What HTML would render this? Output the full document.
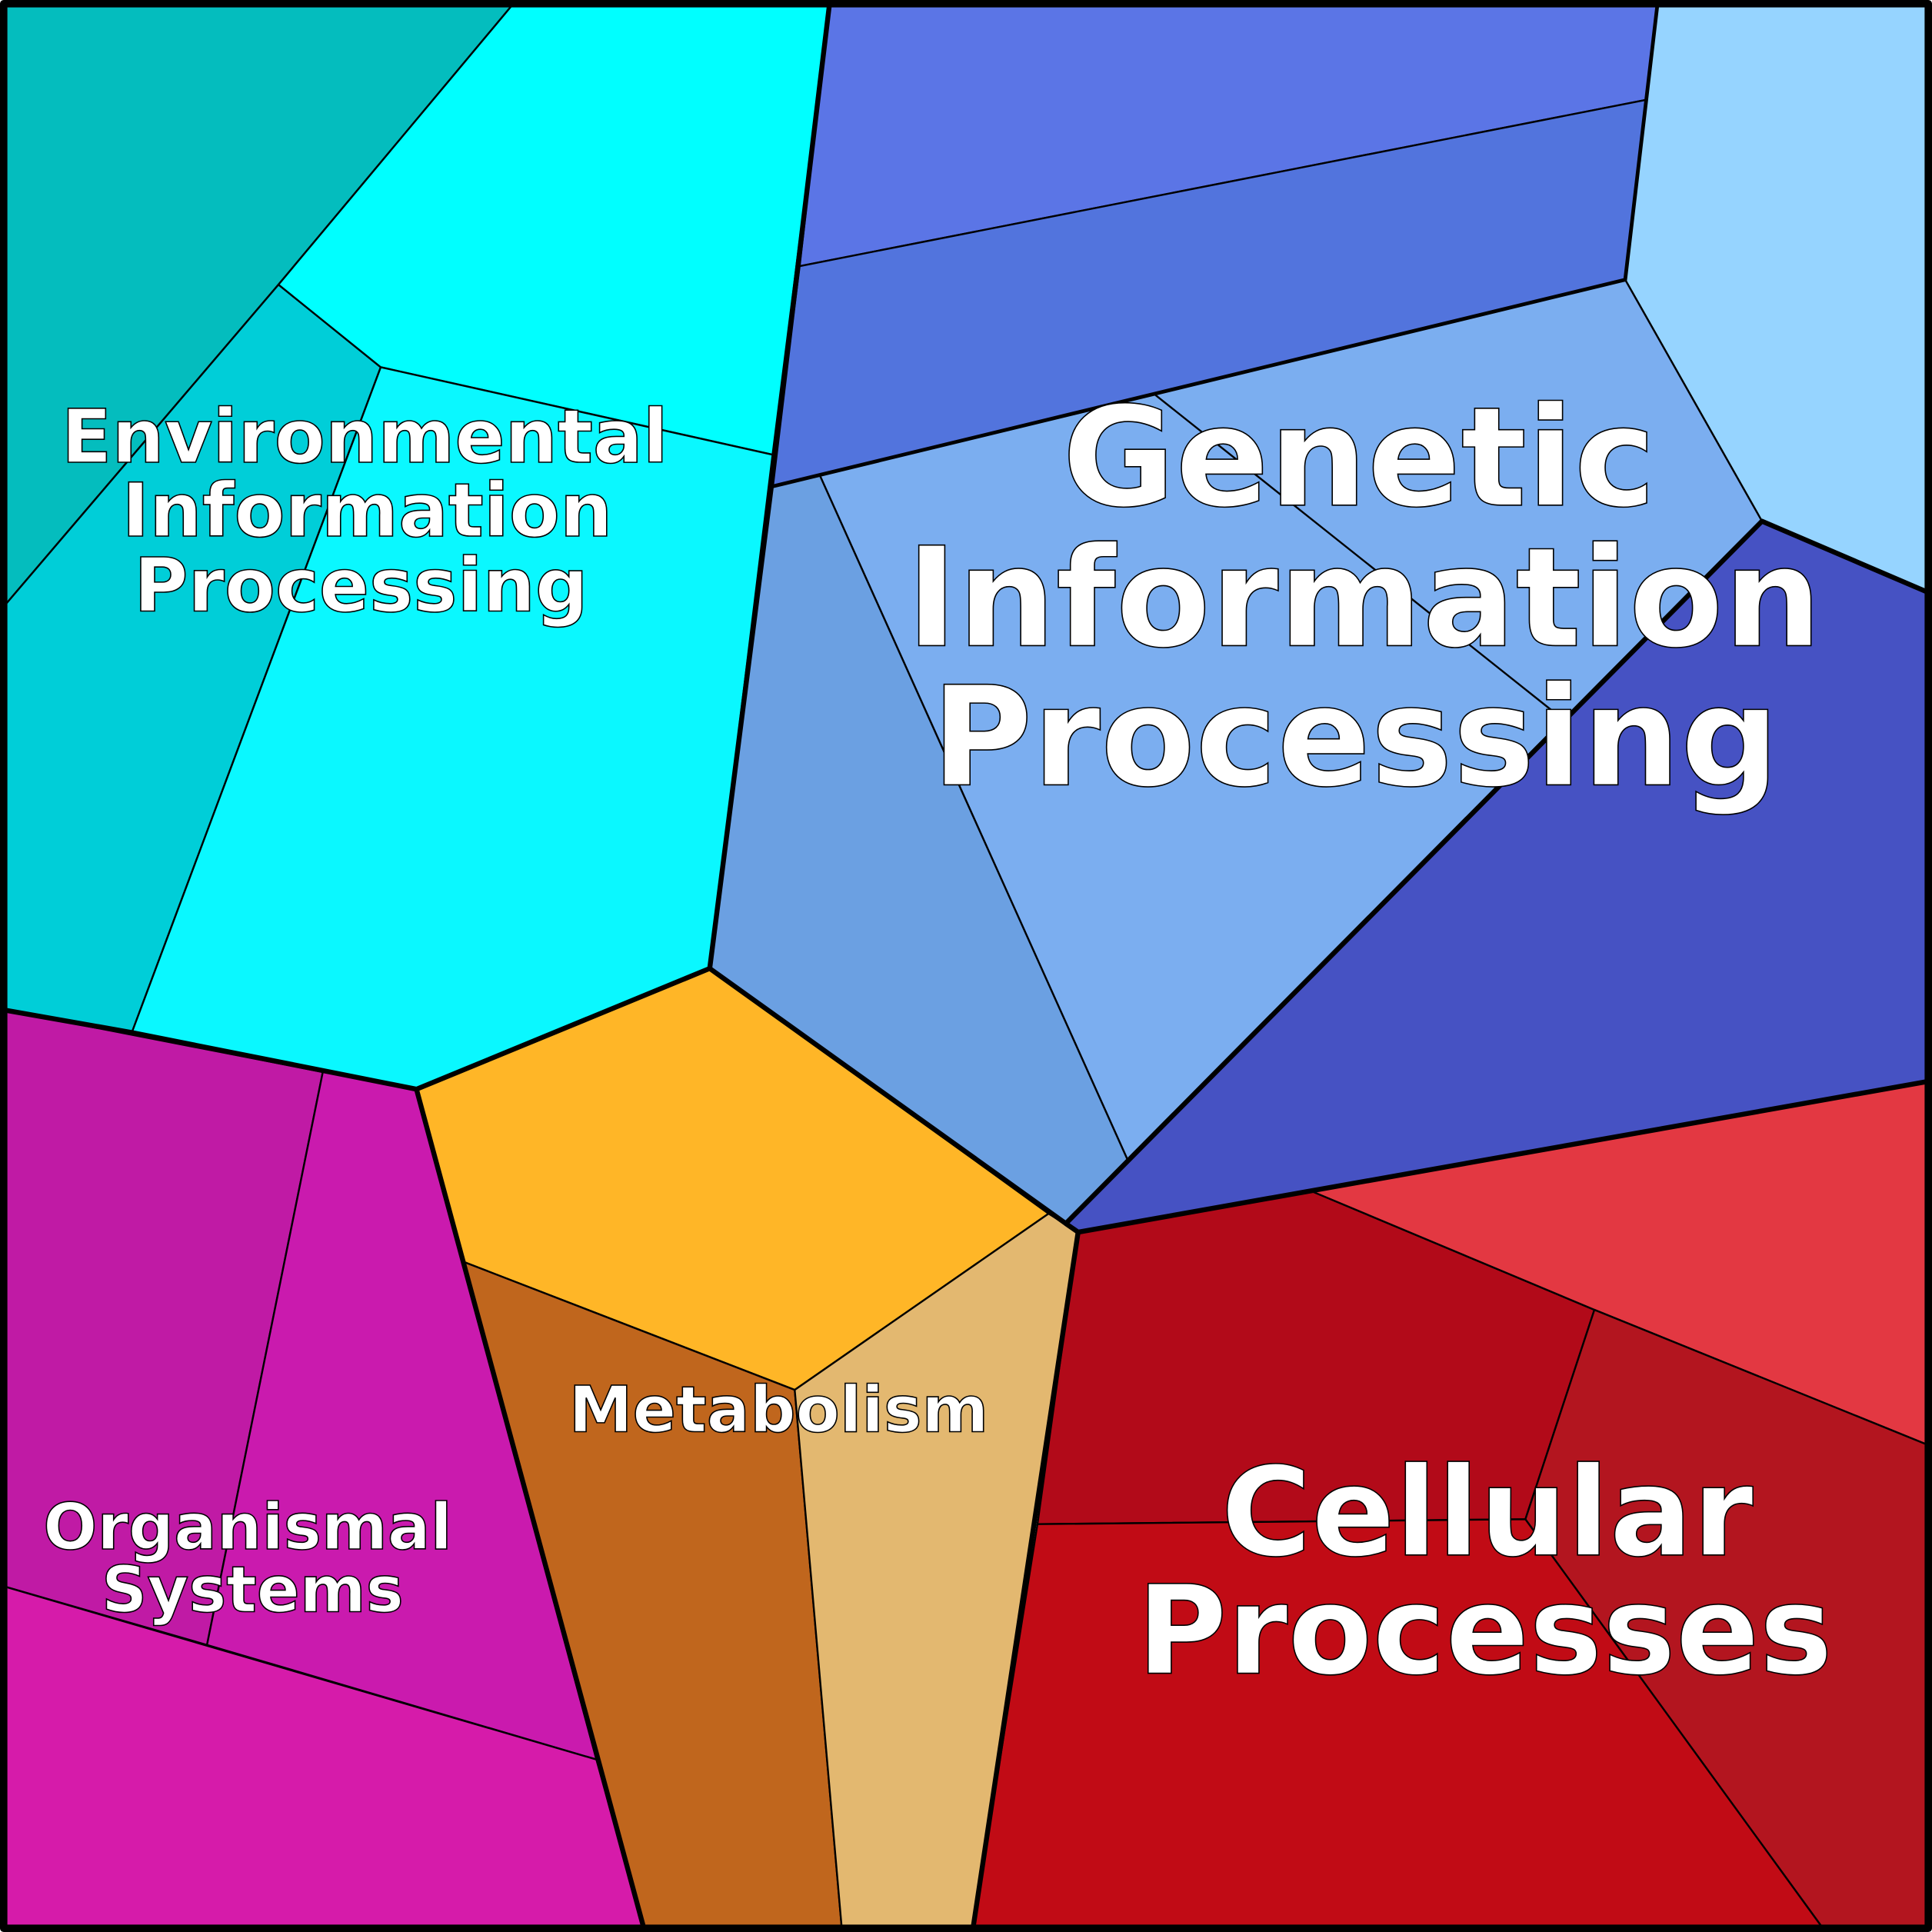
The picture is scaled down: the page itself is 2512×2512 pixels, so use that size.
<!DOCTYPE html>
<html><head><meta charset="utf-8"><style>html,body{margin:0;padding:0;background:#fff}svg{display:block}</style></head>
<body>
<svg width="2512" height="2512" viewBox="0 0 1568 1568" xmlns="http://www.w3.org/2000/svg">
<g stroke="#000" stroke-width="1.5" stroke-linejoin="round">
<polygon fill="#04BDBE" points="5,5 415,5 226,231 5,490"/>
<polygon fill="#00CED8" points="226,231 309,298 107,838 5,820 5,490"/>
<polygon fill="#00FFFF" points="415,5 673,5 627,369 309,298 226,231"/>
<polygon fill="#0AF8FF" points="309,298 627,369 576,786 338,884 107,838"/>
<polygon fill="#5B75E6" points="673,5 1345,5 1336,81 649,216"/>
<polygon fill="#5274DD" points="649,216 1336,81 1319,227 626,395"/>
<polygon fill="#96D4FF" points="1345,5 1563,5 1563,480 1430,423 1319,227"/>
<polygon fill="#7BAEF0" points="665,385 1319,227 1430,423 915,941"/>
<polygon fill="#6BA0E2" points="626,395 665,385 915,941 865,993 576,786"/>
<polygon fill="#4652C3" points="1430,423 1563,480 1563,878 875,1000 865,993"/>
<polygon fill="#FFB627" points="338,884 576,786 851,985 645,1128 376,1024"/>
<polygon fill="#C0661D" points="376,1024 645,1128 683,1563 522,1563"/>
<polygon fill="#E3B870" points="645,1128 851,985 875,1000 790,1563 683,1563"/>
<polygon fill="#C01AA5" points="5,820 262,870 168,1335 5,1288"/>
<polygon fill="#CA1AAE" points="262,870 338,884 484,1428 168,1335"/>
<polygon fill="#D61BAA" points="5,1288 484,1428 522,1563 5,1563"/>
<polygon fill="#B20A19" points="875,1000 1065,967 1294,1063 1238,1233 842,1237"/>
<polygon fill="#E33842" points="1065,967 1563,878 1563,1172 1294,1063"/>
<polygon fill="#B3151F" points="1294,1063 1563,1172 1563,1563 1478,1563 1238,1233"/>
<polygon fill="#C10B15" points="842,1237 1238,1233 1478,1563 790,1563"/>
<line x1="937" y1="320" x2="1260" y2="577"/>
</g>
<g fill="none" stroke="#000" stroke-width="4" stroke-linejoin="round">
<polyline points="5,820 107,838 338,884 576,786 626,395 673,5"/>
<polyline points="626,395 1319,227 1345,5" stroke-width="3"/>
<polyline points="576,786 865,993 1430,423 1563,480"/>
<polyline points="865,993 875,1000 1563,878"/>
<polyline points="338,884 522,1563"/>
<polyline points="875,1000 790,1563"/>
<rect x="3" y="3" width="1562" height="1562" stroke-width="6"/>
</g>
<g font-family="'DejaVu Sans','Liberation Sans',sans-serif" font-weight="bold" fill="#fff" stroke="#000" stroke-width="1" text-anchor="middle">
<text x="1103" y="410" font-size="112">Genetic</text>
<text x="1107" y="524" font-size="112">Information</text>
<text x="1100" y="637" font-size="112">Processing</text>
<text x="296" y="375" font-size="60">Environmental</text>
<text x="298" y="435" font-size="60">Information</text>
<text x="293" y="496" font-size="60">Processing</text>
<text x="632" y="1162" font-size="52">Metabolism</text>
<text x="201" y="1257" font-size="51.5">Organismal</text>
<text x="205" y="1308" font-size="51.5">Systems</text>
<text x="1207" y="1262" font-size="100">Cellular</text>
<text x="1205" y="1358" font-size="100">Processes</text>
</g>
</svg>
</body></html>
